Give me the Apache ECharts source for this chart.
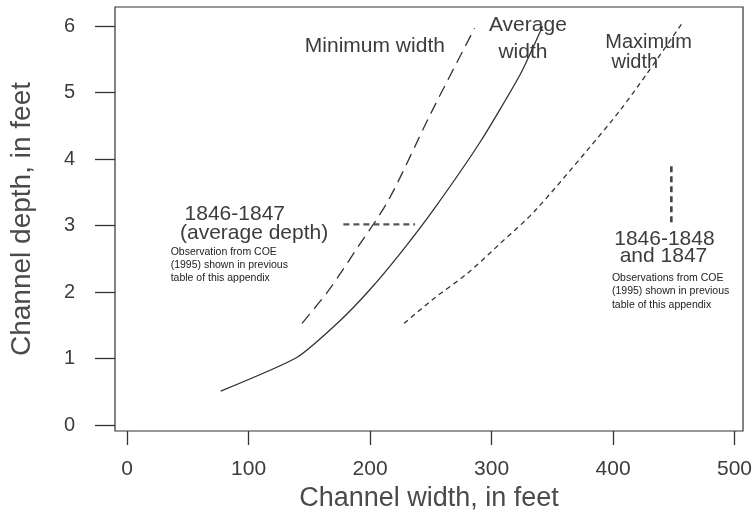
<!DOCTYPE html>
<html>
<head>
<meta charset="utf-8">
<script src="https://cdn.jsdelivr.net/npm/echarts@6/dist/echarts.min.js"></script>
<style>
  html, body { margin: 0; padding: 0; background: #fff; }
  #main { width: 755px; height: 518px; }
</style>
</head>
<body>
<div id="main"></div>
<script>
// channel width (ft) vs channel depth (ft)
var averageWidth = [[77, 0.51], [140, 1.02], [173, 1.53], [199, 2.02], [226, 2.61], [253, 3.26], [291, 4.27], [324, 5.29], [342, 6.0]];
var minimumWidth = [[144, 1.53], [166, 2.03], [190, 2.68], [215, 3.38], [250, 4.69], [286, 5.97]];
var maximumWidth = [[228, 1.53], [253, 1.91], [280, 2.28], [307, 2.73], [335, 3.21], [379, 4.14], [406, 4.74], [428, 5.29], [457, 6.05]];
// observed COE (1995) markers
var obsAverageDepth = [[178, 3.02], [237, 3.02]];
var obsWidthRange = [[448, 3.05], [448, 3.95]];

var xTicks = [0, 100, 200, 300, 400, 500];
var yTicks = [0, 1, 2, 3, 4, 5, 6];

var FONT = "'Liberation Sans', Arial, sans-serif";
var INK = '#333';
var TXT = '#3c3c3c';

// text notes, anchored in data units
var notes = [
    { text: 'Minimum width', x: 146.3, y: 5.70, size: 21, align: 'left' },
    { text: 'Average', x: 329.9, y: 6.01, size: 21, align: 'center' },
    { text: 'width', x: 325.8, y: 5.61, size: 21, align: 'center' },
    { text: 'Maximum', x: 429.3, y: 5.75, size: 20, align: 'center' },
    { text: 'width', x: 417.9, y: 5.45, size: 20, align: 'center' },
    { text: '1846-1847', x: 88.6, y: 3.17, size: 21, align: 'center' },
    { text: '(average depth)', x: 104.5, y: 2.89, size: 21, align: 'center' },
    { text: 'Observation from COE', x: 35.8, y: 2.60, size: 10.5, align: 'left' },
    { text: '(1995) shown in previous', x: 35.8, y: 2.40, size: 10.5, align: 'left' },
    { text: 'table of this appendix', x: 35.8, y: 2.21, size: 10.5, align: 'left' },
    { text: '1846-1848', x: 442.3, y: 2.79, size: 21, align: 'center' },
    { text: 'and 1847', x: 441.5, y: 2.54, size: 21, align: 'center' },
    { text: 'Observations from COE', x: 399.1, y: 2.21, size: 10.5, align: 'left' },
    { text: '(1995) shown in previous', x: 399.1, y: 2.01, size: 10.5, align: 'left' },
    { text: 'table of this appendix', x: 399.1, y: 1.81, size: 10.5, align: 'left' }
];

var chart = echarts.init(document.getElementById('main'));

function lineSeries(name, data, type, width, color, smooth) {
    return {
        name: name,
        type: 'line',
        data: data,
        showSymbol: false,
        symbol: 'none',
        silent: true,
        smooth: smooth || false,
        lineStyle: { color: color || INK, width: width, type: type }
    };
}

var option = {
    animation: false,
    backgroundColor: '#fff',
    grid: {
        left: 112, right: 11, top: 7, bottom: 87,
        show: true,
        borderColor: INK,
        borderWidth: 1.2,
        backgroundColor: 'transparent'
    },
    xAxis: {
        type: 'value',
        min: -10,
        max: 507,
        name: 'Channel width, in feet',
        nameLocation: 'middle',
        nameGap: 43,
        nameTextStyle: { fontFamily: FONT, fontSize: 27, color: '#4a4a4a' },
        axisLine: { show: false, onZero: false },
        axisTick: { show: true, length: 14, customValues: xTicks, lineStyle: { color: INK, width: 1.3 } },
        axisLabel: { customValues: xTicks, margin: 28, fontFamily: FONT, fontSize: 21, color: TXT },
        splitLine: { show: false }
    },
    yAxis: {
        type: 'value',
        min: -0.09,
        max: 6.29,
        name: 'Channel depth, in feet',
        nameLocation: 'middle',
        nameGap: 79,
        nameTextStyle: { fontFamily: FONT, fontSize: 28, color: '#4a4a4a' },
        axisLine: { show: false, onZero: false },
        axisTick: { show: true, length: 20, customValues: yTicks, lineStyle: { color: INK, width: 1.3 } },
        axisLabel: { customValues: yTicks, margin: 40, fontFamily: FONT, fontSize: 20, color: TXT },
        splitLine: { show: false }
    },
    series: [
        lineSeries('Average width', averageWidth, 'solid', 1.3, INK, 0.2),
        lineSeries('Minimum width', minimumWidth, [12, 7], 1.3, INK, 0.3),
        lineSeries('Maximum width', maximumWidth, [5, 4], 1.3, INK, 0.3),
        lineSeries('1846-1847', obsAverageDepth, [6, 4], 2.2, '#555'),
        lineSeries('1846-1848 and 1847', obsWidthRange, [6, 4], 2.6, '#444')
    ]
};
chart.setOption(option);

var elements = notes.map(function (n) {
    var p = chart.convertToPixel({ gridIndex: 0 }, [n.x, n.y]);
    return {
        type: 'text',
        silent: true,
        style: {
            text: n.text,
            x: p[0],
            y: p[1],
            align: n.align,
            verticalAlign: 'middle',
            font: n.size + 'px ' + FONT,
            fill: n.size < 12 ? '#222' : TXT
        }
    };
});
chart.setOption({ graphic: { elements: elements } });
</script>
</body>
</html>
